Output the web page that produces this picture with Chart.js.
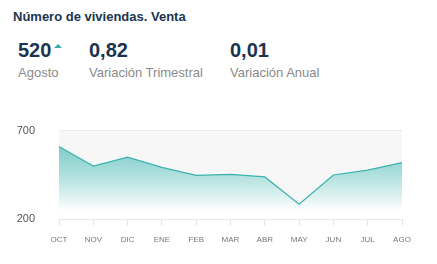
<!DOCTYPE html>
<html lang="es">
<head>
    <meta charset="UTF-8">
    <title>Número de viviendas. Venta</title>
    <script src="https://cdn.jsdelivr.net/npm/chart.js"></script>
    <style>
        body {
            margin: 0;
            width: 437px;
            height: 264px;
            background: #fff;
            font-family: "Liberation Sans", Arial, sans-serif;
            position: relative;
            overflow: hidden;
        }
        .title {
            position: absolute;
            left: 13px;
            top: 9px;
            font-size: 13px;
            font-weight: bold;
            color: #1b3550;
        }
        .kpi {
            position: absolute;
            top: 38px;
        }
        .kpi .value {
            font-size: 20px;
            font-weight: bold;
            color: #1b3550;
            line-height: 24px;
        }
        .kpi .label {
            font-size: 13px;
            color: #8a8a8a;
            line-height: 18px;
            margin-top: 2px;
        }
        .arrow {
            display: inline-block;
            width: 0;
            height: 0;
            border-left: 4px solid transparent;
            border-right: 4px solid transparent;
            border-bottom: 4px solid #35aea9;
            vertical-align: top;
            margin-top: 6px;
            margin-left: 3px;
        }
        #chartBox {
            position: absolute;
            left: 0;
            top: 100px;
            width: 437px;
            height: 155px;
        }
    </style>
</head>
<body>
    <div class="title">Número de viviendas. Venta</div>
    <div class="kpi" style="left:18px">
        <div class="value">520<span class="arrow"></span></div>
        <div class="label">Agosto</div>
    </div>
    <div class="kpi" style="left:89px">
        <div class="value">0,82</div>
        <div class="label">Variación Trimestral</div>
    </div>
    <div class="kpi" style="left:230px">
        <div class="value">0,01</div>
        <div class="label">Variación Anual</div>
    </div>
    <div id="chartBox"><canvas id="ventaChart"></canvas></div>

    <script>
        const months = ['OCT', 'NOV', 'DIC', 'ENE', 'FEB', 'MAR', 'ABR', 'MAY', 'JUN', 'JUL', 'AGO'];
        const ventas = [611, 500, 550, 493, 448, 453, 439, 285, 450, 477, 520];
        const yTicks = [200, 700];

        // fondo gris claro del área del gráfico
        const plotBg = {
            id: 'plotBg',
            beforeDraw(chart) {
                const { ctx, chartArea } = chart;
                ctx.save();
                ctx.fillStyle = '#f7f7f7';
                ctx.fillRect(chartArea.left, chartArea.top, chartArea.right - chartArea.left, chartArea.bottom - chartArea.top);
                ctx.restore();
            }
        };

        const ctx = document.getElementById('ventaChart').getContext('2d');
        new Chart(ctx, {
            type: 'line',
            data: {
                labels: months,
                datasets: [{
                    data: ventas,
                    borderColor: '#3bb3ae',
                    borderWidth: 1.2,
                    pointRadius: 0,
                    tension: 0,
                    fill: 'start',
                    backgroundColor: (context) => {
                        const area = context.chart.chartArea;
                        if (!area) return 'rgba(59,179,174,0.5)';
                        const g = context.chart.ctx.createLinearGradient(0, area.top, 0, area.bottom);
                        g.addColorStop(0, 'rgba(59,179,174,0.75)');
                        g.addColorStop(0.9, 'rgba(255,255,255,1)');
                        g.addColorStop(1, 'rgba(255,255,255,1)');
                        return g;
                    }
                }]
            },
            options: {
                responsive: true,
                maintainAspectRatio: false,
                animation: false,
                layout: { padding: { left: 0, right: 35, top: 0, bottom: 0 } },
                plugins: {
                    legend: { display: false },
                    tooltip: { enabled: false }
                },
                scales: {
                    x: {
                        offset: false,
                        grid: {
                            drawOnChartArea: false,
                            drawTicks: true,
                            tickLength: 6,
                            color: '#e2e2e2'
                        },
                        border: { color: '#e6e6e6' },
                        ticks: {
                            color: '#777',
                            font: { family: 'Liberation Sans', size: 8 },
                            padding: 10,
                            maxRotation: 0,
                            autoSkip: false
                        }
                    },
                    y: {
                        min: yTicks[0],
                        max: yTicks[1],
                        afterFit: (scale) => { scale.width = 59; },
                        afterBuildTicks: (scale) => { scale.ticks = yTicks.map(v => ({ value: v })); },
                        grid: {
                            drawTicks: false,
                            color: (c) => c.tick && c.tick.value === 700 ? '#ececec' : 'rgba(0,0,0,0)'
                        },
                        border: { display: false },
                        ticks: {
                            color: '#555',
                            font: { family: 'Liberation Sans', size: 11 },
                            padding: 24
                        }
                    }
                }
            },
            plugins: [plotBg]
        });
    </script>
</body>
</html>
